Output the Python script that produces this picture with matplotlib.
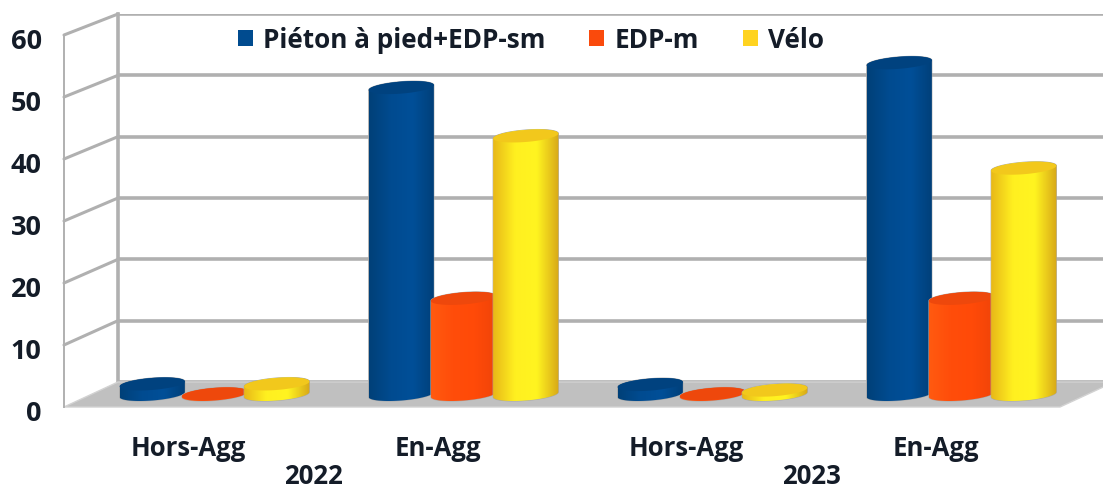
import numpy as np
import matplotlib.pyplot as plt
from matplotlib.colors import LinearSegmentedColormap
from matplotlib.patches import ConnectionPatch, Patch, PathPatch, Polygon
from matplotlib.path import Path
from matplotlib.transforms import ScaledTranslation

# Data
categories = ['Hors-Agg', 'En-Agg', 'Hors-Agg', 'En-Agg']
years = ['2022', '2023']
y_ticks = [0, 10, 20, 30, 40, 50, 60]
pieton = [1.7, 49.5, 1.6, 53.5]
edp = [0.1, 15.5, 0.1, 15.5]
velo = [1.7, 41.7, 0.7, 36.5]

W, H = 1103, 491
plt.rcParams['font.family'] = ['Open Sans', 'DejaVu Sans']
TEXT = '#141c28'
GRID = '#b0b0b0'
FS = 18.5

fig = plt.figure(figsize=(W / 100, H / 100), dpi=100)

# back wall and front plane each get their own axes, pixel boxes from the picture
ax_back = fig.add_axes([118 / W, 1 - 382 / H, 985 / W, 368 / H], zorder=1)
ax = fig.add_axes([64 / W, 1 - 407 / H, 996 / W, 372 / H], zorder=2)
ax.patch.set_alpha(0)
ax.set_xlim(-0.5, 3.5)
ax.set_ylim(0, 60)
ax.set_autoscale_on(False)
px_x = 4 / 996
px_y = 60 / 372

ax_back.set_xlim(0, 1)
ax_back.set_ylim(0, 60)
ax_back.set_xticks([])
ax_back.set_yticks(y_ticks)
ax_back.tick_params(left=False, labelleft=False)
ax_back.grid(axis='y', color=GRID, lw=2.6)
ax_back.set_axisbelow(True)
for name in ['top', 'right', 'bottom']:
    ax_back.spines[name].set_visible(False)
ax_back.spines['left'].set_color(GRID)
ax_back.spines['left'].set_linewidth(2.6)

# side wall lines
for v in y_ticks[1:]:
    con = ConnectionPatch((-0.5, v), (0, v), coordsA=ax.transData, coordsB=ax_back.transData,
                          color=GRID, lw=2.2, zorder=1)
    fig.add_artist(con)

# floor
floor = Polygon([(-0.5, 0), (-0.5 + 54 * px_x, 25 * px_y), (3.5 + 54 * px_x, 25 * px_y), (3.5, 0)],
                closed=True, fc='#c0c0c0', ec='#d2d2d2', lw=1, clip_on=False, zorder=1)
ax.add_patch(floor)

ax.set_xticks(range(4), categories)
ax.set_yticks(y_ticks)
ax.tick_params(axis='x', length=0, pad=20, labelsize=FS, labelcolor=TEXT)
ax.tick_params(axis='y', length=0, pad=16, labelsize=FS + 1, labelcolor=TEXT)
for lab in ax.get_xticklabels() + ax.get_yticklabels():
    lab.set_fontweight('bold')
# the value labels sit a little under their lines in the picture
for lab in ax.get_yticklabels():
    lab.set_transform(lab.get_transform() + ScaledTranslation(0, -4 / 100, fig.dpi_scale_trans))
for name in ['top', 'right', 'bottom']:
    ax.spines[name].set_visible(False)
ax.spines['left'].set_color(GRID)
ax.spines['left'].set_linewidth(1.4)

for i, year in enumerate(years):
    ax.annotate(year, xy=(2 * i + 0.5, 0), xycoords=ax.get_xaxis_transform(),
                xytext=(0, -69), textcoords='offset pixels', ha='center', va='center',
                fontsize=FS, fontweight='bold', color=TEXT)

# bars stand halfway into the depth of the floor
bar_trans = ax.transData + ScaledTranslation(26 / 100, 12.5 / 100, fig.dpi_scale_trans)
bar_w = 0.262
cap_h = 6 * px_y
skew = 2.5 * px_y


def cylinder(x, v, colors, cap_color, z):
    t = np.linspace(0, 2 * np.pi, 80)
    ex = np.cos(t) * bar_w / 2
    ey = np.sin(t) * cap_h + np.cos(t) * skew
    lower = t[:41]
    # outline: top half of the top ellipse, then lower half of the base ellipse
    side_x = np.r_[x + ex[:41], x - np.cos(lower) * bar_w / 2]
    side_y = np.r_[v + ey[:41], -np.sin(lower) * cap_h - np.cos(lower) * skew]
    verts = np.c_[side_x, side_y]
    outline = PathPatch(Path(np.r_[verts, verts[:1]]), fc='none', ec='#a8a8a8', lw=0.7,
                        transform=bar_trans, clip_on=False, zorder=z)
    ax.add_patch(outline)
    cmap = LinearSegmentedColormap.from_list('c', colors)
    img = ax.imshow(np.linspace(0, 1, 128)[None, :], cmap=cmap, aspect='auto',
                    extent=[x - bar_w / 2, x + bar_w / 2, -cap_h - skew, v + cap_h + skew],
                    transform=bar_trans, zorder=z + 0.1)
    img.set_clip_path(outline)
    cap = Polygon(np.c_[x + ex, v + ey], closed=True, fc=cap_color, ec='none',
                  transform=bar_trans, clip_on=False, zorder=z + 0.2)
    ax.add_patch(cap)


series = [
    (pieton, -0.25, ['#004078', '#004b90', '#004f98', '#003f78'], '#00427f', '#004b8f'),
    (edp, 0.0, ['#ff5a10', '#ff4d0a', '#ff4a08', '#f04408'], '#ee480c', '#fa4a0c'),
    (velo, 0.25, ['#e8b818', '#fff020', '#fff420', '#d8a818'], '#f2c81c', '#ffd320'),
]
for k, (vals, dx, colors, cap_color, _) in enumerate(series):
    for i, v in enumerate(vals):
        cylinder(i + dx, v, colors, cap_color, 3 + i * 3 + k)

handles = [Patch(fc=s[4], ec='none') for s in series]
leg = ax.legend(handles, ['Piéton à pied+EDP-sm', 'EDP-m', 'Vélo'], ncol=3, frameon=False,
                loc='upper left', bbox_to_anchor=(150 / 996, 1.086),
                handlelength=0.58, handleheight=0.58, handletextpad=0.38, columnspacing=1.7,
                labelcolor=TEXT, prop={'weight': 'bold', 'size': 18.8})
leg.set_zorder(30)

fig.savefig('out.png', dpi=100)
